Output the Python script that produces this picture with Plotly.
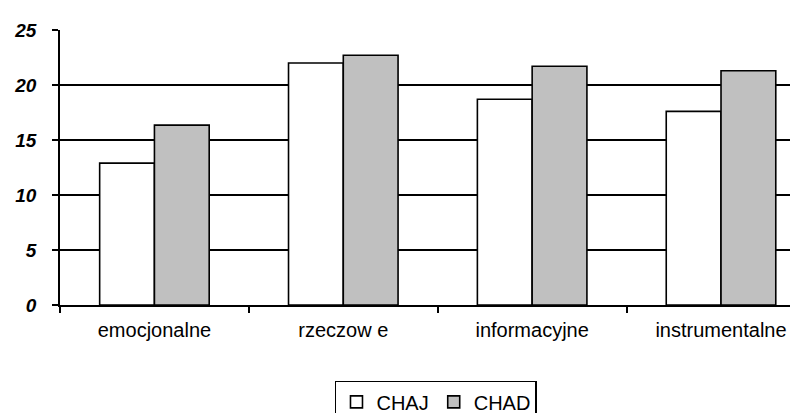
import plotly.graph_objects as go

categories = ["emocjonalne", "rzeczow e", "informacyjne", "instrumentalne"]
chaj = [12.9, 22.0, 18.7, 17.6]
chad = [16.35, 22.7, 21.7, 21.3]
y_ticks = [0, 5, 10, 15, 20, 25]

fig = go.Figure()
fig.add_trace(go.Bar(name="CHAJ", x=categories, y=chaj,
                     marker=dict(color="#ffffff", line=dict(color="#000000", width=1.6))))
fig.add_trace(go.Bar(name="CHAD", x=categories, y=chad,
                     marker=dict(color="#c0c0c0", line=dict(color="#000000", width=1.6))))

fig.update_layout(
    width=798, height=413,
    margin=dict(l=52, r=0, t=22, b=116, autoexpand=False),
    paper_bgcolor="white", plot_bgcolor="white",
    barmode="group", bargap=0.42, bargroupgap=0,
    font=dict(family="Liberation Sans, Arial, sans-serif", color="#000000"),
    showlegend=True,
    legend=dict(orientation="h", x=0.504, xanchor="center", y=-0.276, yanchor="top",
                bordercolor="#000000", borderwidth=1.5, bgcolor="white",
                font=dict(size=20), itemwidth=30, traceorder="normal"),
    xaxis=dict(type="category", range=[-0.5, 3.45], showline=True, linecolor="#000000",
               linewidth=1.6, ticks="outside", tickson="boundaries", ticklen=6,
               tickcolor="#000000", tickwidth=1.5, showgrid=False, automargin=False,
               tickfont=dict(size=20), ticklabelstandoff=6),
    yaxis=dict(range=[0, 25], tickvals=y_ticks, showline=True, linecolor="#000000",
               linewidth=1.6, ticks="outside", ticklen=6, tickcolor="#000000", tickwidth=1.5,
               showgrid=True, gridcolor="#000000", gridwidth=1.6, zeroline=False,
               automargin=False,
               tickfont=dict(size=19, family="Liberation Sans, Arial, sans-serif",
                             weight="bold", style="italic"),
               ticklabelstandoff=12),
)
fig.write_html("out.html")
